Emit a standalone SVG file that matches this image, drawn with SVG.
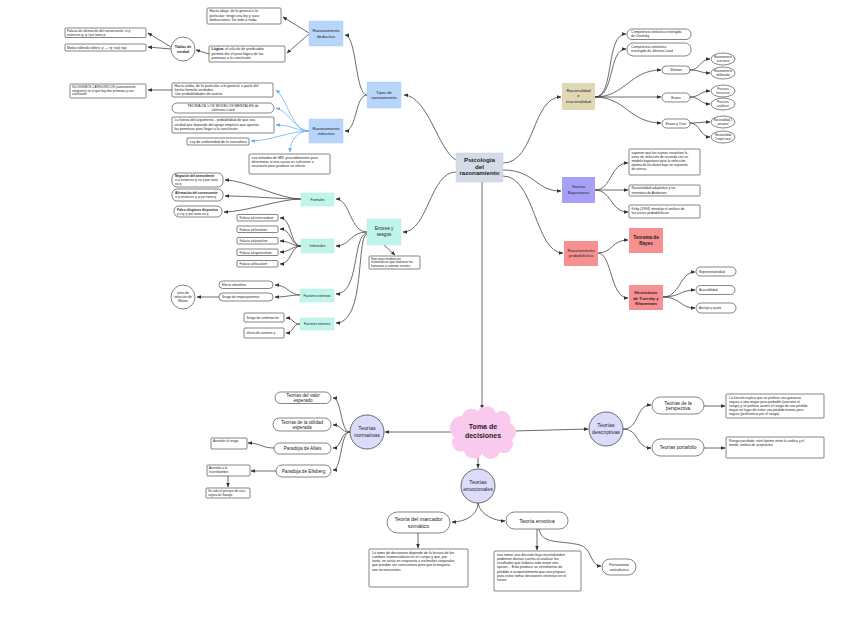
<svg xmlns="http://www.w3.org/2000/svg" width="848" height="636" viewBox="0 0 848 636">
<defs>
<marker id="a" viewBox="0 0 10 10" refX="9" refY="5" markerWidth="4.5" markerHeight="4.5" markerUnits="userSpaceOnUse" orient="auto"><path d="M0,1 L10,5 L0,9 z" fill="#333"/></marker>
<marker id="ab" viewBox="0 0 10 10" refX="9" refY="5" markerWidth="4.5" markerHeight="4.5" markerUnits="userSpaceOnUse" orient="auto"><path d="M0,1 L10,5 L0,9 z" fill="#6aaaf5"/></marker>
<style>
text{font-family:"Liberation Sans",Arial,sans-serif;fill:#1e1e1e}
.c{text-anchor:middle}
.b{font-weight:bold}
.n{fill:#fff;stroke:#333;stroke-width:.6}
.lb{fill:#b8d5fb;stroke:#a8c8f4;stroke-width:.4}
.mt{fill:#bff5ea;stroke:#aee8dc;stroke-width:.4}
.lv{fill:#dcdcfa;stroke:#333;stroke-width:.7}
.k path{fill:none;stroke:#3b3b3b;stroke-width:.75;marker-end:url(#a)}
.k path.bl{stroke:#6aaaf5;marker-end:url(#ab)}
.s3{font-size:3.2px}.s34{font-size:3.4px}.s36{font-size:3.6px}.s4{font-size:4px}.s42{font-size:4.2px}.s44{font-size:4.4px}.s54{font-size:5.3px}
</style>
</defs>
<rect width="848" height="636" fill="#fff"/>

<g id="connectors" class="k">
<path d="M456,160 C438,150 428,96 404,95"/>
<path d="M456,172 C430,172 428,232 403,232"/>
<path d="M503,163 C535,163 532,97 561,97"/>
<path d="M503,170 C535,170 535,191 561,191"/>
<path d="M503,176 C535,176 535,253 563,253"/>
<path d="M482,182 L482,409"/>
<path d="M367,95 C355,95 357,36 345,35"/>
<path d="M367,95 C355,95 357,131 345,131"/>
<path d="M309,33 L283,17"/>
<path d="M309,34 L287,53"/>
<path d="M209,54 L196,50"/>
<path d="M171,47 L148,33"/>
<path d="M171,49 L148,47"/>
<path d="M172,90 L148,90"/>
<path class="bl" d="M309,131 C292,131 288,100 276,90"/>
<path class="bl" d="M309,131 C295,131 290,112 276,108"/>
<path class="bl" d="M309,131 C297,131 292,125 276,125"/>
<path class="bl" d="M309,131 C290,131 270,141 251,141"/>
<path class="bl" d="M309,131 C298,131 290,140 290,152"/>
<path d="M367,232 C350,232 350,199 336,199"/>
<path d="M367,232 C350,232 350,246 336,246"/>
<path d="M367,233 C352,235 360,294 336,294"/>
<path d="M367,234 C356,236 366,323 336,323"/>
<path d="M384,245 L395,255"/>
<path d="M301,199 C280,199 245,180 225,180"/>
<path d="M301,199 C280,199 250,196 225,196"/>
<path d="M301,199 C280,199 245,212 224,212"/>
<path d="M301,246 C290,246 292,218 280,218"/>
<path d="M301,246 C290,246 292,229 280,229"/>
<path d="M301,246 C292,246 290,241 280,241"/>
<path d="M301,246 C292,246 290,252 280,252"/>
<path d="M301,246 C290,246 292,264 280,264"/>
<path d="M300,295 C290,295 287,285 275,285"/>
<path d="M300,295 C290,295 287,297 275,297"/>
<path d="M219,297 L197,297"/>
<path d="M300,324 C292,324 294,318 286,318"/>
<path d="M300,324 C292,324 294,333 286,333"/>
<path d="M595,97 C615,97 605,34 626,34"/>
<path d="M595,97 C615,97 608,49 626,49"/>
<path d="M595,97 C625,97 630,70 661,70"/>
<path d="M595,97 L661,97"/>
<path d="M595,97 C625,97 630,123 661,123"/>
<path d="M690,70 C700,70 700,59 710,59"/>
<path d="M690,70 C700,70 700,73 710,73"/>
<path d="M690,97 C700,97 700,91 710,91"/>
<path d="M690,97 C700,97 700,104 710,104"/>
<path d="M690,123 C700,123 700,122 710,122"/>
<path d="M690,123 C700,123 700,137 710,137"/>
<path d="M595,190 C612,190 610,163 628,163"/>
<path d="M595,190 L628,190"/>
<path d="M595,190 C612,190 610,212 628,212"/>
<path d="M598,253 C612,253 612,240 628,240"/>
<path d="M598,253 C612,253 610,298 628,298"/>
<path d="M663,297 C680,297 680,272 695,272"/>
<path d="M663,297 C680,297 680,290 695,290"/>
<path d="M663,297 C680,297 680,308 695,308"/>
<path d="M452,432 L385,432"/>
<path d="M514,431 L588,429"/>
<path d="M478,454 L478,468"/>
<path d="M350,432 C340,432 342,398 333,398"/>
<path d="M350,432 C340,432 342,425 333,425"/>
<path d="M350,432 C340,432 342,448 333,448"/>
<path d="M350,432 C340,432 342,470 333,470"/>
<path d="M274,448 C262,448 260,443 248,443"/>
<path d="M276,471 L251,471"/>
<path d="M228,476 L228,487"/>
<path d="M623,429 C640,429 635,405 651,405"/>
<path d="M623,429 C640,429 635,448 651,448"/>
<path d="M704,406 L725,406"/>
<path d="M704,448 L725,448"/>
<path d="M478,503 C478,515 465,522 452,522"/>
<path d="M478,503 C480,515 495,521 505,521"/>
<path d="M418,533 L418,548"/>
<path d="M537,529 L537,550"/>
<path d="M539,529 C542,545 560,540 580,545 C592,548 590,566 601,566"/>
</g>

<g id="psicologia">
<rect x="456" y="153" width="47" height="29" fill="#d3dbe6" stroke="#c3ccd9" stroke-width=".4"/>
<text class="c b" x="479.5" y="162" font-size="6.2">Psicología</text>
<text class="c b" x="479.5" y="168.6" font-size="6.2">del</text>
<text class="c b" x="479.5" y="175.2" font-size="6.2">razonamiento</text>
</g>

<g id="tipos">
<rect class="lb" x="367" y="82" width="34" height="26"/>
<text class="c s42" x="384" y="93.5">Tipos de</text>
<text class="c s42" x="384" y="99">razonamiento</text>
</g>
<g id="deductivo">
<rect class="lb" x="309" y="21" width="34" height="25"/>
<text class="c s42" x="326" y="32">Razonamiento</text>
<text class="c s42" x="326" y="37.5">deductivo</text>
</g>
<g id="inductivo">
<rect class="lb" x="309" y="119" width="34" height="24"/>
<text class="c s42" x="326" y="129.5">Razonamiento</text>
<text class="c s42" x="326" y="135">inductivo</text>
</g>
<g id="hacia-abajo">
<rect class="n" x="207" y="8" width="74" height="16" rx="1"/>
<text class="s36" x="209.5" y="12.3">Hacia abajo, de lo general a lo</text>
<text class="s36" x="209.5" y="16.5">particular; tengo una ley y saco</text>
<text class="s36" x="209.5" y="20.7">deducciones. De todo o nada.</text>
</g>
<g id="logica">
<rect class="n" x="209" y="46" width="76" height="16" rx="1"/>
<text class="s36" x="211.5" y="50.3"><tspan class="b">Lógica:</tspan> el cálculo de predicados</text>
<text class="s36" x="211.5" y="54.5">permite dar el paso lógico de las</text>
<text class="s36" x="211.5" y="58.7">premisas a la conclusión</text>
</g>
<g id="tablas">
<circle class="n" cx="183" cy="49" r="12"/>
<text class="c s36 b" x="183" y="48">Tablas de</text>
<text class="c s36 b" x="183" y="52.5">verdad</text>
</g>
<g id="falacia-afirmacion">
<rect class="n" x="65" y="28" width="81" height="9.5" rx="1"/>
<text x="67" y="31.6" font-size="3.3">Falacia de afirmación del consecuente: si p</text>
<text x="67" y="35.6" font-size="3.3">entonces q; q / por tanto p</text>
</g>
<g id="modus">
<rect class="n" x="65" y="44" width="81" height="7" rx="1"/>
<text x="67" y="48.8" font-size="3.3">Modus tollendo tollens: p ----›q; noq/ nop</text>
</g>
<g id="silogismos">
<rect class="n" x="70" y="84" width="76" height="14" rx="1"/>
<text x="72" y="87.8" font-size="3.1">SILOGISMOS CATEGÓRICOS (razonamiento</text>
<text x="72" y="91.6" font-size="3.1">silogístico) en el que hay dos premisas y una</text>
<text x="72" y="95.4" font-size="3.1">conclusión</text>
</g>
<g id="hacia-arriba">
<rect class="n" x="172" y="83" width="101" height="14" rx="1"/>
<text class="s36" x="174.5" y="87">Hacia arriba, de lo particular a lo general, a partir del</text>
<text class="s36" x="174.5" y="91.2">hecho formulo verdades.</text>
<text class="s36" x="174.5" y="95.4">Con probabilidades de acierto</text>
</g>
<g id="modelos-mentales">
<rect class="n" x="172" y="103" width="102" height="10" rx="5"/>
<text class="c s36" x="223" y="107">TEORÍA DE LOS MODELOS MENTALES de</text>
<text class="c s36" x="223" y="111.2">Johnson-Laird</text>
</g>
<g id="fuerza">
<rect class="n" x="172" y="117" width="102" height="16" rx="1"/>
<text class="s36" x="174.5" y="121.3">La fuerza del argumento - probabilidad de que sea</text>
<text class="s36" x="174.5" y="125.5">verdad que depende del apoyo empírico que aportan</text>
<text class="s36" x="174.5" y="129.7">las premisas para llegar a la conclusión</text>
</g>
<g id="ley">
<rect class="n" x="187" y="138" width="62" height="7" rx="1"/>
<text class="s36" x="189.5" y="142.8">Ley de uniformidad de la naturaleza</text>
</g>
<g id="mill">
<rect class="n" x="249" y="154" width="81" height="20" rx="1"/>
<text class="s36" x="251.5" y="158.5">Los métodos de Mill: procedimientos para</text>
<text class="s36" x="251.5" y="162.7">determinar si una causa es suficiente o</text>
<text class="s36" x="251.5" y="166.9">necesaria para producir un efecto</text>
</g>

<g id="errores">
<rect class="mt" x="367" y="219" width="34" height="26"/>
<text class="c" x="384" y="230" font-size="4.6">Errores y</text>
<text class="c" x="384" y="236" font-size="4.6">sesgos</text>
</g>
<g id="tendencias">
<rect class="n" x="369" y="256" width="51" height="13" rx="1"/>
<text class="s3" x="371" y="259.7">Son unas tendencias</text>
<text class="s3" x="371" y="263.4">sistemáticas que tenemos los</text>
<text class="s3" x="371" y="267.1">humanos a cometer errores</text>
</g>
<g id="formales">
<rect class="mt" x="301" y="193" width="33" height="13"/>
<text class="c s34" x="317.5" y="200.8">Formales</text>
</g>
<g id="informales">
<rect class="mt" x="301" y="239" width="33" height="14"/>
<text class="c s34" x="317.5" y="247.2">Informales</text>
</g>
<g id="factores-externos">
<rect class="mt" x="300" y="289" width="34" height="13"/>
<text class="c s34" x="317" y="296.7">Factores externos</text>
</g>
<g id="factores-internos">
<rect class="mt" x="300" y="318" width="34" height="12"/>
<text class="c s34" x="317" y="325.2">Factores internos</text>
</g>
<g id="negacion">
<rect class="n" x="172" y="173" width="51" height="14" rx="5"/>
<text class="s3 b" x="175" y="177">Negación del antecedente</text>
<text class="s3" x="175" y="181">si p entonces q; no p por tanto</text>
<text class="s3" x="175" y="185">no q</text>
</g>
<g id="afirmacion">
<rect class="n" x="172" y="189" width="51" height="12" rx="5"/>
<text class="s3 b" x="175" y="193.7">Afirmación del consecuente</text>
<text class="s3" x="175" y="197.7">si p entonces q; p por tanto q</text>
</g>
<g id="falso-silogismo">
<rect class="n" x="174" y="206" width="48" height="11" rx="5"/>
<text class="s3 b" x="177" y="210.5">Falso silogismo disyuntivo</text>
<text class="s3" x="177" y="214.5">p o q; p por tanto no q</text>
</g>
<g id="verecundiam"><rect class="n" x="237" y="214.5" width="41" height="6.5" rx="1"/><text class="s3" x="239.5" y="219">Falacia ad verecundiam</text></g>
<g id="hominen"><rect class="n" x="237" y="226" width="41" height="6.5" rx="1"/><text class="s3" x="239.5" y="230.5">Falacia ad hominen</text></g>
<g id="populum"><rect class="n" x="237" y="237.5" width="41" height="6.5" rx="1"/><text class="s3" x="239.5" y="242">Falacia ad populum</text></g>
<g id="ignorantiam"><rect class="n" x="237" y="249" width="41" height="6.5" rx="1"/><text class="s3" x="239.5" y="253.5">Falacia ad ignorantiam</text></g>
<g id="baculum"><rect class="n" x="237" y="260.5" width="41" height="6.5" rx="1"/><text class="s3" x="239.5" y="265">Falacia ad baculum</text></g>
<g id="atmosfera"><rect class="n" x="219" y="281" width="54" height="7.5" rx="3.75"/><text class="s3" x="222" y="286">Efecto atmósfera</text></g>
<g id="emparejamiento"><rect class="n" x="219" y="293" width="54" height="8" rx="4"/><text class="s3" x="222" y="298.2">Sesgo de emparejamiento</text></g>
<g id="wason">
<circle class="n" cx="183" cy="297" r="12"/>
<text class="c s3" x="183" y="293.5">tarea de</text>
<text class="c s3" x="183" y="297.5">selección de</text>
<text class="c s3" x="183" y="301.5">Wason</text>
</g>
<g id="confirmacion"><rect class="n" x="244" y="313" width="40" height="9" rx="1"/><text class="s3" x="246.5" y="318.7">Sesgo de confirmación</text></g>
<g id="contexto"><rect class="n" x="244" y="328" width="40" height="10" rx="1"/><text class="s3" x="246.5" y="334.2">efecto de contexto y</text></g>

<g id="racionalidad">
<rect x="562" y="83" width="33" height="27" fill="#e0d8b5"/>
<text class="c s42" x="578.5" y="91.5">Racionalidad</text>
<text class="c s42" x="578.5" y="97">e</text>
<text class="c s42" x="578.5" y="102.5">irracionalidad</text>
</g>
<g id="chomsky">
<rect class="n" x="627" y="29" width="64" height="10.5" rx="5"/>
<text x="631" y="33.2" font-size="3.3">Competencia sintáctica restringida</text>
<text x="631" y="37.3" font-size="3.3"> de Chomsky</text>
</g>
<g id="semantica">
<rect class="n" x="627" y="43" width="64" height="13" rx="6"/>
<text x="631" y="48" font-size="3.3">Competencia semántica</text>
<text x="631" y="52.2" font-size="3.3">restringida de Johnson-Laird</text>
</g>
<g id="sloman"><rect class="n" x="662" y="66" width="28" height="8" rx="4"/><text class="c s34" x="676" y="71.2">Sloman</text></g>
<g id="evans"><rect class="n" x="662" y="93" width="28" height="9" rx="4.5"/><text class="c s34" x="676" y="98.7">Evans</text></g>
<g id="evans-over"><rect class="n" x="662" y="119" width="28" height="9" rx="4.5"/><text class="c s34" x="676" y="124.7">Evans y Over</text></g>
<g id="asociativo"><ellipse class="n" cx="723" cy="59" rx="12" ry="6"/><text class="c" x="723" y="58.2" font-size="2.8">Razonamiento</text><text class="c" x="723" y="61.6" font-size="2.8">asociativo</text></g>
<g id="deliberado"><ellipse class="n" cx="723" cy="73" rx="12" ry="6"/><text class="c" x="723" y="72.2" font-size="2.8">Razonamiento</text><text class="c" x="723" y="75.6" font-size="2.8">deliberado</text></g>
<g id="heuristicos"><ellipse class="n" cx="723" cy="91" rx="12" ry="6"/><text class="c" x="723" y="90.2" font-size="2.8">Procesos</text><text class="c" x="723" y="93.6" font-size="2.8">heurísticos</text></g>
<g id="analiticos"><ellipse class="n" cx="723" cy="104" rx="12" ry="6"/><text class="c" x="723" y="103.2" font-size="2.8">Procesos</text><text class="c" x="723" y="106.6" font-size="2.8">analíticos</text></g>
<g id="racionalidad1"><ellipse class="n" cx="723" cy="122" rx="12" ry="6"/><text class="c" x="723" y="121.2" font-size="2.8">Racionalidad 1</text><text class="c" x="723" y="124.6" font-size="2.8">personal</text></g>
<g id="racionalidad2"><ellipse class="n" cx="723" cy="137" rx="12" ry="6"/><text class="c" x="723" y="136.2" font-size="2.8">Racionalidad</text><text class="c" x="723" y="139.6" font-size="2.8">2 impersonal</text></g>

<g id="bayesianas">
<rect x="562" y="177" width="33" height="26" fill="#a6a1f6"/>
<text class="c s42" x="578.5" y="188">Teorías</text>
<text class="c s42" x="578.5" y="194">Bayesianas</text>
</g>
<g id="suponen">
<rect class="n" x="629" y="149" width="71" height="26" rx="1"/>
<text class="s34" x="631.5" y="153.5">suponen que los sujetos resuelven la</text>
<text class="s34" x="631.5" y="157.7">tarea de selección de acuerdo con un</text>
<text class="s34" x="631.5" y="161.9">modelo bayesiano para la selección</text>
<text class="s34" x="631.5" y="166.1">óptima de los datos bajo un supuesto</text>
<text class="s34" x="631.5" y="170.3">de rareza.</text>
</g>
<g id="anderson">
<rect class="n" x="629" y="185" width="71" height="11" rx="1"/>
<text class="s34" x="631.5" y="189.3">Racionalidad adaptativa y no</text>
<text class="s34" x="631.5" y="193.5">normativa de Anderson</text>
</g>
<g id="kirby">
<rect class="n" x="629" y="205" width="71" height="13" rx="1"/>
<text class="s34" x="631.5" y="209.5">Kirby (1994) introdujo el análisis de</text>
<text class="s34" x="631.5" y="213.7">los juicios probabilísticos</text>
</g>
<g id="probabilistico">
<rect x="564" y="241" width="34" height="25" fill="#f79090"/>
<text class="c s42" x="581" y="251.5">Razonamiento</text>
<text class="c s42" x="581" y="257">probabilístico</text>
</g>
<g id="teorema-bayes">
<rect x="629" y="228" width="34" height="25" fill="#f79090"/>
<text class="c b" x="646" y="239" font-size="4.6">Teorema de</text>
<text class="c b" x="646" y="245" font-size="4.6">Bayes</text>
</g>
<g id="heuristicos-tk">
<rect x="629" y="285" width="34" height="25" fill="#f79090"/>
<text class="c b s42" x="646" y="294">Heurísticos</text>
<text class="c b s42" x="646" y="299.5">de Tversky y</text>
<text class="c b s42" x="646" y="305">Khaneman</text>
</g>
<g id="representatividad"><rect class="n" x="696" y="267" width="40" height="9" rx="4.5"/><text class="s3" x="699" y="272.7">Representatividad</text></g>
<g id="accesibilidad"><rect class="n" x="696" y="285.5" width="39" height="9" rx="4.5"/><text class="s3" x="699" y="291.2">Accesibilidad</text></g>
<g id="anclaje"><rect class="n" x="696" y="303" width="40" height="10" rx="5"/><text class="s3" x="699" y="309.2">Anclaje y ajuste</text></g>

<g id="toma-decisiones">
<path d="M462,416 a10,10 0 0 1 16,-5 a10,10 0 0 1 18,2 a9,9 0 0 1 14,10 a10,10 0 0 1 2,17 a9,9 0 0 1 -12,12 a10,10 0 0 1 -18,2 a10,10 0 0 1 -18,-3 a9,9 0 0 1 -10,-14 a12,12 0 0 1 8,-21 z" fill="#f9c9ee"/>
<text class="c b" x="483" y="429" font-size="7">Toma de</text>
<text class="c b" x="483" y="437.5" font-size="7">decisiones</text>
</g>
<g id="normativas">
<circle class="lv" cx="367" cy="432" r="17"/>
<text class="c s54" x="367" y="430">Teorías</text>
<text class="c s54" x="367" y="436.5">normativas</text>
</g>
<g id="descriptivas">
<circle class="lv" cx="606" cy="429" r="17"/>
<text class="c s54" x="606" y="427">Teorías</text>
<text class="c s54" x="606" y="433.5">descriptivas</text>
</g>
<g id="emocionales">
<circle class="lv" cx="478" cy="486" r="17"/>
<text class="c s54" x="478" y="484">Teorías</text>
<text class="c s54" x="478" y="490.5">emocionales</text>
</g>
<g id="valor-esperado">
<rect class="n" x="275" y="392" width="56" height="11.5" rx="5.75"/>
<text class="c" x="303" y="397" font-size="4.6">Teorías del valor</text>
<text class="c" x="303" y="402" font-size="4.6">esperado</text>
</g>
<g id="utilidad-esperada">
<rect class="n" x="273" y="418" width="58" height="13" rx="6.5"/>
<text class="c" x="302" y="423.5" font-size="4.6">Teorías de la utilidad</text>
<text class="c" x="302" y="428.6" font-size="4.6">esperada</text>
</g>
<g id="allais"><rect class="n" x="274" y="443" width="57" height="11" rx="5.5"/><text class="c" x="302.5" y="450.2" font-size="4.7">Paradoja de Allais</text></g>
<g id="ellsberg"><rect class="n" x="276" y="465" width="55" height="12" rx="6"/><text class="c" x="303.5" y="472.7" font-size="4.7">Paradoja de Ellsberg</text></g>
<g id="aversion-riesgo"><rect class="n" x="211" y="438" width="36" height="11" rx="1"/><text class="s3" x="213" y="442">Aversión al riesgo</text></g>
<g id="aversion-incertidumbre">
<rect class="n" x="207" y="465" width="43" height="11" rx="1"/>
<text class="s3" x="209" y="469">Aversión a la</text>
<text class="s3" x="209" y="473">incertidumbre</text>
</g>
<g id="savage">
<rect class="n" x="206" y="488" width="44" height="10" rx="1"/>
<text x="208" y="491.8" font-size="3">Se viola el principio de cosa</text>
<text x="208" y="495.8" font-size="3">segura de Savage</text>
</g>
<g id="marcador">
<rect class="n" x="387" y="512" width="63" height="21" rx="10.5"/>
<text class="c" x="418.5" y="521" font-size="5.4">Teoría del marcador</text>
<text class="c" x="418.5" y="527.5" font-size="5.4">somático</text>
</g>
<g id="emotiva">
<rect class="n" x="506" y="512" width="62" height="17" rx="8.5"/>
<text class="c" x="537" y="522.5" font-size="5.4">Teoría emotiva</text>
</g>
<g id="marcador-texto">
<rect class="n" x="369" y="549" width="99" height="38" rx="1"/>
<text class="s36" x="372" y="553.5">La toma de decisiones depende de la lectura de los</text>
<text class="s36" x="372" y="557.8">cambios homeostáticos en el cuerpo y que, por</text>
<text class="s36" x="372" y="562.1">tanto, se actúa en respuesta a estímulos corporales</text>
<text class="s36" x="372" y="566.4">que pueden ser conscientes pero que la mayoría</text>
<text class="s36" x="372" y="570.7">son inconscientes.</text>
</g>
<g id="emotiva-texto">
<rect class="n" x="494" y="551" width="87" height="40" rx="1"/>
<text class="s36" x="497" y="555.5">tras tomar una decisión bajo incertidumbre,</text>
<text class="s36" x="497" y="559.8">podemos darnos cuenta al analizar los</text>
<text class="s36" x="497" y="564.1">resultados que hubiera sido mejor otra</text>
<text class="s36" x="497" y="568.4">opción. - Esto produce un sentimiento de</text>
<text class="s36" x="497" y="572.7">pérdida o arrepentimiento que nos prepara</text>
<text class="s36" x="497" y="577">para evitar tomar decisiones erróneas en el</text>
<text class="s36" x="497" y="581.3">futuro</text>
</g>
<g id="contrafactico">
<rect class="n" x="602" y="559" width="34" height="16" rx="8"/>
<text class="c s34" x="619" y="566">Pensamiento</text>
<text class="c s34" x="619" y="570.5">contrafáctico</text>
</g>
<g id="perspectiva">
<rect class="n" x="652" y="397" width="52" height="17" rx="8.5"/>
<text class="c" x="678" y="404.5" font-size="4.8">Teorías de la</text>
<text class="c" x="678" y="410" font-size="4.8">perspectiva</text>
</g>
<g id="portafolio">
<rect class="n" x="652" y="439" width="52" height="17" rx="8.5"/>
<text class="c" x="678" y="449.2" font-size="4.8">Teorías portafolio</text>
</g>
<g id="funcion">
<rect class="n" x="726" y="394" width="98" height="24" rx="1"/>
<text class="s34" x="729" y="398.5">La función explica que se prefiera una ganancia</text>
<text class="s34" x="729" y="402.6">segura a otra mayor pero probable (aversión al</text>
<text class="s34" x="729" y="406.7">riesgo) y se prefiera asumir el riesgo de una pérdida</text>
<text class="s34" x="729" y="410.8">mayor en lugar de evitar una pérdida menos pero</text>
<text class="s34" x="729" y="414.9">segura (preferencia por el riesgo).</text>
</g>
<g id="riesgo">
<rect class="n" x="726" y="437" width="98" height="21" rx="1"/>
<text class="s34" x="729" y="441.5">Riesgo percibido; nivel óptimo entre la codicia y el</text>
<text class="s34" x="729" y="445.6">miedo; umbral de aceptación</text>
</g>
</svg>
